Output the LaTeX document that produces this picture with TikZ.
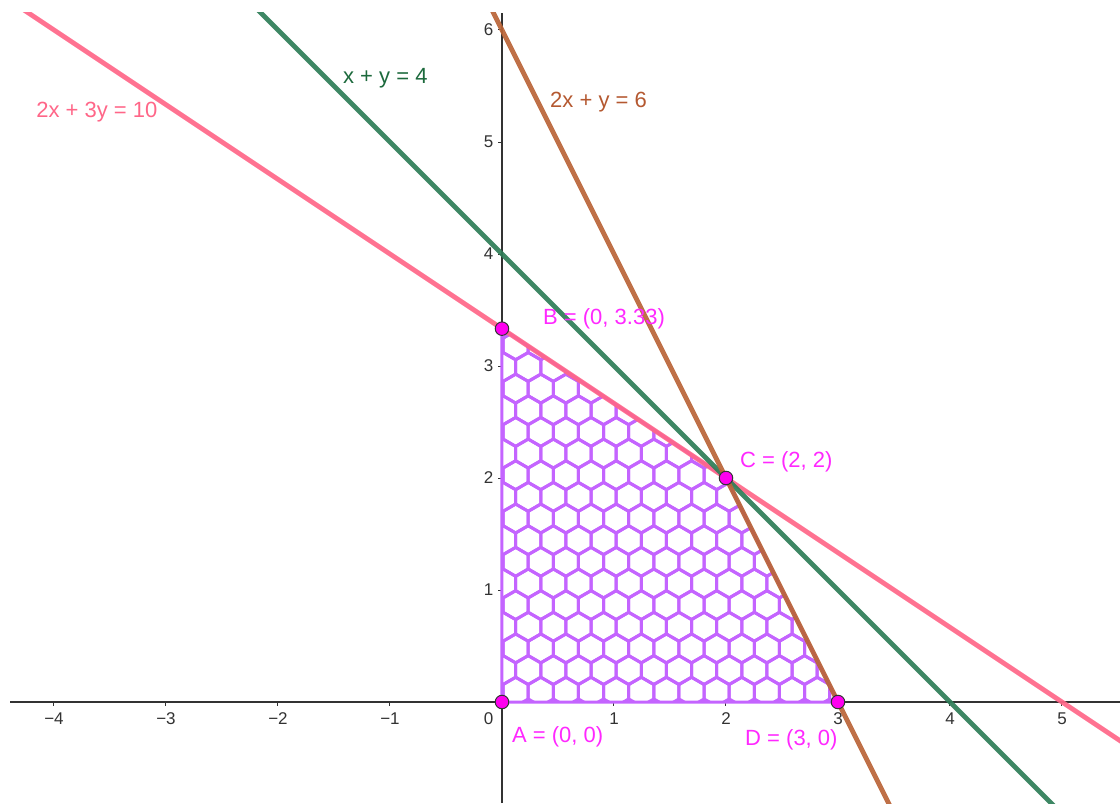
\documentclass[tikz,border=0pt]{standalone}
\usepackage{fontspec}
\setmainfont{Liberation Sans}
\definecolor{pinkline}{RGB}{255,102,136}
\definecolor{greenline}{RGB}{46,125,87}
\definecolor{greentext}{RGB}{28,105,60}
\definecolor{brownline}{RGB}{186,100,55}
\definecolor{browntext}{RGB}{180,88,48}
\definecolor{axisgray}{RGB}{50,50,50}
\definecolor{hexpurple}{RGB}{196,100,255}
\definecolor{ptfill}{RGB}{255,0,240}
\definecolor{ptmag}{RGB}{255,40,255}
\begin{document}
\begin{tikzpicture}[x=112pt,y=112pt,
  axis/.style={draw=axisgray, line width=1.3pt},
  tickmark/.style={draw=axisgray, line width=1pt},
  ticklab/.style={text=axisgray, font=\fontsize{17}{19}\selectfont, inner sep=0pt},
  eqlab/.style={font=\fontsize{22}{25}\selectfont, inner sep=0pt, anchor=west},
  ptlab/.style={text=ptmag, font=\fontsize{22}{25}\selectfont, inner sep=0pt, anchor=west},
  vertex/.style={circle, fill=ptfill, draw=black!80, line width=1pt, minimum size=13.5pt, inner sep=0pt},
  conline/.style={line width=4.8pt, opacity=0.92},
  hexline/.style={draw=hexpurple, line width=3pt},
  edgeline/.style={draw=hexpurple, line width=3pt},
]
\useasboundingbox (-4.4821,-0.9018) rectangle (5.5179,6.2679);

% axes
\coordinate (xl) at (-4.39,0);
\coordinate (xr) at (5.5179,0);
\coordinate (yb) at (0,-0.9018);
\coordinate (yt) at (0,6.152);
\draw[axis] (xl) -- (xr);
\draw[axis] (yb) -- (yt);
\foreach \i in {1,2,3,4,5} {
  \draw[tickmark] (\i,0) -- ++(0,-0.035);
  \node[ticklab] (xt\i) at (\i,-0.145) {\i};
}
\foreach \i in {1,2,3,4} {
  \draw[tickmark] (-\i,0) -- ++(0,-0.035);
  \node[ticklab] (xtm\i) at (-\i,-0.145) {−\i};
}
\foreach \j in {1,...,6} {
  \draw[tickmark] (0,\j) -- ++(-0.035,0);
  \node[ticklab, anchor=east] (yt\j) at (-0.075,\j) {\j};
}
\node[ticklab, anchor=east] (zero) at (-0.075,-0.145) {0};

% vertices
\coordinate (pA) at (0,0);
\coordinate (pB) at (0,10/3);
\coordinate (pC) at (2,2);
\coordinate (pD) at (3,0);

% hexagon fill
\begin{scope}
\clip (pA) -- (pB) -- (pC) -- (pD) -- cycle;
\foreach \r in {0,...,18} {
  \pgfmathsetmacro{\yc}{0.092+\r*0.1933}
  \pgfmathsetmacro{\xo}{0.122-mod(\r,2)*0.11215}
  \foreach \c in {-1,...,14} {
    \pgfmathsetmacro{\xc}{\xo+\c*0.2243}
    \draw[hexline, shift={(\xc,\yc)}] (30:0.1295) -- (90:0.1295) -- (150:0.1295) -- (210:0.1295) -- (270:0.1295) -- (330:0.1295) -- cycle;
  }
}
\end{scope}
\draw[edgeline, line join=round] (pA) -- (pB) -- (pC) -- (pD) -- cycle;

% constraint lines
\coordinate (p1) at (-4.6,6.4);
\coordinate (p2) at (5.6,-0.4);
\coordinate (g1) at (-2.4,6.4);
\coordinate (g2) at (5,-1);
\coordinate (b1) at (-0.2,6.4);
\coordinate (b2) at (3.5,-1);
\begin{scope}
\clip (-4.4821,-0.9018) rectangle (5.5179,6.152);
\draw[conline, pinkline] (p1) -- (p2);
\draw[conline, greenline] (g1) -- (g2);
\draw[conline, brownline] (b1) -- (b2);
\end{scope}

% points
\node[vertex] (A) at (pA) {};
\node[vertex] (B) at (pB) {};
\node[vertex] (C) at (pC) {};
\node[vertex] (D) at (pD) {};

% labels
\node[eqlab, text=pinkline] (eq1) at (-4.16,5.268) {2x + 3y = 10};
\node[eqlab, text=greentext] (eq2) at (-1.42,5.571) {x + y = 4};
\node[eqlab, text=browntext] (eq3) at (0.429,5.357) {2x + y = 6};
\node[ptlab] (lB) at (0.366,3.42) {B = (0, 3.33)};
\node[ptlab] (lC) at (2.125,2.143) {C = (2, 2)};
\node[ptlab] (lA) at (0.089,-0.3125) {A = (0, 0)};
\node[ptlab] (lD) at (2.17,-0.339) {D = (3, 0)};
\end{tikzpicture}
\end{document}
